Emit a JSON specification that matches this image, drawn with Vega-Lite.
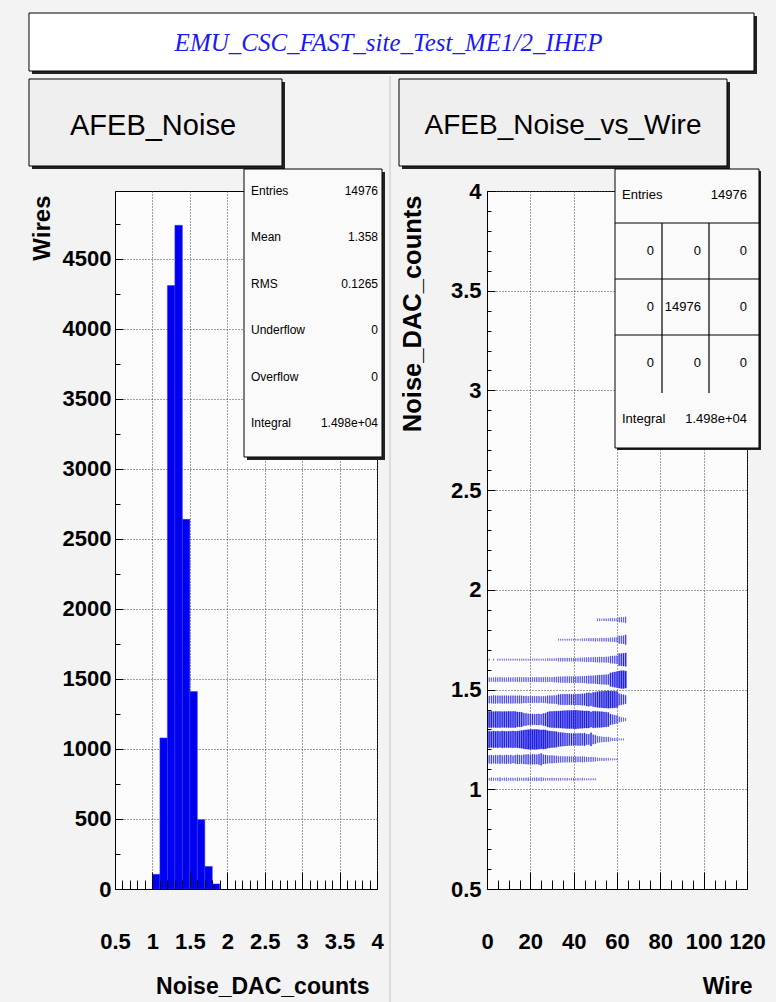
{
"$schema":"https://vega.github.io/schema/vega-lite/v6.json",
"background":"#f3f3f3",
"padding":{"left":27,"top":12,"right":16,"bottom":6},
"autosize":{"type":"pad"},
"bounds":"flush",
"spacing":110,
"config":{"view":{"fill":"#fcfcfc","stroke":"#000","strokeWidth":1},"text":{"font":"Liberation Sans","color":"#000"},"axis":{"labelFont":"Liberation Sans","titleFont":"Liberation Sans","labelColor":"#000","titleColor":"#000"}},
"datasets":{
"one":[{}],
"hist":[{"lo":1.0,"hi":1.1,"n":105},{"lo":1.1,"hi":1.2,"n":1079},{"lo":1.2,"hi":1.3,"n":4310},{"lo":1.3,"hi":1.4,"n":4740},{"lo":1.4,"hi":1.5,"n":2640},{"lo":1.5,"hi":1.6,"n":1410},{"lo":1.6,"hi":1.7,"n":495},{"lo":1.7,"hi":1.8,"n":161},{"lo":1.8,"hi":1.9,"n":36}],
"lstats":[{"k":"Entries","v":"14976"},{"k":"Mean","v":"1.358"},{"k":"RMS","v":"0.1265"},{"k":"Underflow","v":"0"},{"k":"Overflow","v":"0"},{"k":"Integral","v":"1.498e+04"}],
"rstats":[{"r":"r0","c":"L","t":"Entries"},{"r":"r0","c":"c3","t":"14976"},{"r":"r1","c":"c1","t":"0"},{"r":"r1","c":"c2","t":"0"},{"r":"r1","c":"c3","t":"0"},{"r":"r2","c":"c1","t":"0"},{"r":"r2","c":"c2","t":"14976"},{"r":"r2","c":"c3","t":"0"},{"r":"r3","c":"c1","t":"0"},{"r":"r3","c":"c2","t":"0"},{"r":"r3","c":"c3","t":"0"},{"r":"r4","c":"L","t":"Integral"},{"r":"r4","c":"c3","t":"1.498e+04"}],
"cells":[
{"w":1,"n":1.05,"c":2},{"w":1,"n":1.15,"c":22},{"w":1,"n":1.25,"c":95},{"w":1,"n":1.35,"c":90},{"w":1,"n":1.45,"c":18},{"w":1,"n":1.55,"c":6},{"w":1,"n":1.65,"c":1},
{"w":2,"n":1.05,"c":4},{"w":2,"n":1.15,"c":26},{"w":2,"n":1.25,"c":88},{"w":2,"n":1.35,"c":92},{"w":2,"n":1.45,"c":19},{"w":2,"n":1.55,"c":5},
{"w":3,"n":1.05,"c":3},{"w":3,"n":1.15,"c":20},{"w":3,"n":1.25,"c":96},{"w":3,"n":1.35,"c":86},{"w":3,"n":1.45,"c":22},{"w":3,"n":1.55,"c":6},{"w":3,"n":1.65,"c":1},
{"w":4,"n":1.05,"c":2},{"w":4,"n":1.15,"c":25},{"w":4,"n":1.25,"c":90},{"w":4,"n":1.35,"c":89},{"w":4,"n":1.45,"c":21},{"w":4,"n":1.55,"c":7},
{"w":5,"n":1.05,"c":3},{"w":5,"n":1.15,"c":23},{"w":5,"n":1.25,"c":94},{"w":5,"n":1.35,"c":87},{"w":5,"n":1.45,"c":20},{"w":5,"n":1.55,"c":6},{"w":5,"n":1.65,"c":1},
{"w":6,"n":1.05,"c":5},{"w":6,"n":1.15,"c":27},{"w":6,"n":1.25,"c":85},{"w":6,"n":1.35,"c":90},{"w":6,"n":1.45,"c":19},{"w":6,"n":1.55,"c":7},{"w":6,"n":1.65,"c":1},
{"w":7,"n":1.05,"c":2},{"w":7,"n":1.15,"c":21},{"w":7,"n":1.25,"c":98},{"w":7,"n":1.35,"c":85},{"w":7,"n":1.45,"c":21},{"w":7,"n":1.55,"c":6},{"w":7,"n":1.65,"c":1},
{"w":8,"n":1.05,"c":3},{"w":8,"n":1.15,"c":24},{"w":8,"n":1.25,"c":92},{"w":8,"n":1.35,"c":88},{"w":8,"n":1.45,"c":20},{"w":8,"n":1.55,"c":6},{"w":8,"n":1.65,"c":1},
{"w":9,"n":1.05,"c":4},{"w":9,"n":1.15,"c":28},{"w":9,"n":1.25,"c":89},{"w":9,"n":1.35,"c":86},{"w":9,"n":1.45,"c":20},{"w":9,"n":1.55,"c":6},{"w":9,"n":1.65,"c":1},
{"w":10,"n":1.05,"c":2},{"w":10,"n":1.15,"c":22},{"w":10,"n":1.25,"c":93},{"w":10,"n":1.35,"c":91},{"w":10,"n":1.45,"c":19},{"w":10,"n":1.55,"c":6},{"w":10,"n":1.65,"c":1},
{"w":11,"n":1.05,"c":3},{"w":11,"n":1.15,"c":26},{"w":11,"n":1.25,"c":90},{"w":11,"n":1.35,"c":87},{"w":11,"n":1.45,"c":21},{"w":11,"n":1.55,"c":6},{"w":11,"n":1.65,"c":1},
{"w":12,"n":1.05,"c":3},{"w":12,"n":1.15,"c":19},{"w":12,"n":1.25,"c":97},{"w":12,"n":1.35,"c":88},{"w":12,"n":1.45,"c":20},{"w":12,"n":1.55,"c":6},{"w":12,"n":1.65,"c":1},
{"w":13,"n":1.05,"c":2},{"w":13,"n":1.15,"c":25},{"w":13,"n":1.25,"c":91},{"w":13,"n":1.35,"c":89},{"w":13,"n":1.45,"c":20},{"w":13,"n":1.55,"c":6},{"w":13,"n":1.65,"c":1},
{"w":14,"n":1.05,"c":4},{"w":14,"n":1.15,"c":30},{"w":14,"n":1.25,"c":95},{"w":14,"n":1.35,"c":78},{"w":14,"n":1.45,"c":19},{"w":14,"n":1.55,"c":7},{"w":14,"n":1.65,"c":1},
{"w":15,"n":1.05,"c":3},{"w":15,"n":1.15,"c":26},{"w":15,"n":1.25,"c":102},{"w":15,"n":1.35,"c":75},{"w":15,"n":1.45,"c":20},{"w":15,"n":1.55,"c":7},{"w":15,"n":1.65,"c":1},
{"w":16,"n":1.05,"c":2},{"w":16,"n":1.15,"c":24},{"w":16,"n":1.25,"c":108},{"w":16,"n":1.35,"c":72},{"w":16,"n":1.45,"c":20},{"w":16,"n":1.55,"c":7},{"w":16,"n":1.65,"c":1},
{"w":17,"n":1.05,"c":3},{"w":17,"n":1.15,"c":30},{"w":17,"n":1.25,"c":120},{"w":17,"n":1.35,"c":56},{"w":17,"n":1.45,"c":17},{"w":17,"n":1.55,"c":7},{"w":17,"n":1.65,"c":1},
{"w":18,"n":1.05,"c":3},{"w":18,"n":1.15,"c":31},{"w":18,"n":1.25,"c":126},{"w":18,"n":1.35,"c":50},{"w":18,"n":1.45,"c":16},{"w":18,"n":1.55,"c":7},{"w":18,"n":1.65,"c":1},
{"w":19,"n":1.05,"c":4},{"w":19,"n":1.15,"c":33},{"w":19,"n":1.25,"c":132},{"w":19,"n":1.35,"c":44},{"w":19,"n":1.45,"c":14},{"w":19,"n":1.55,"c":6},{"w":19,"n":1.65,"c":1},
{"w":20,"n":1.05,"c":2},{"w":20,"n":1.15,"c":30},{"w":20,"n":1.25,"c":136},{"w":20,"n":1.35,"c":42},{"w":20,"n":1.45,"c":16},{"w":20,"n":1.55,"c":7},{"w":20,"n":1.65,"c":1},
{"w":21,"n":1.05,"c":3},{"w":21,"n":1.15,"c":34},{"w":21,"n":1.25,"c":134},{"w":21,"n":1.35,"c":40},{"w":21,"n":1.45,"c":15},{"w":21,"n":1.55,"c":7},{"w":21,"n":1.65,"c":1},
{"w":22,"n":1.05,"c":3},{"w":22,"n":1.15,"c":32},{"w":22,"n":1.25,"c":138},{"w":22,"n":1.35,"c":38},{"w":22,"n":1.45,"c":15},{"w":22,"n":1.55,"c":7},{"w":22,"n":1.65,"c":1},
{"w":23,"n":1.05,"c":4},{"w":23,"n":1.15,"c":31},{"w":23,"n":1.25,"c":135},{"w":23,"n":1.35,"c":41},{"w":23,"n":1.45,"c":15},{"w":23,"n":1.55,"c":7},{"w":23,"n":1.65,"c":1},
{"w":24,"n":1.05,"c":3},{"w":24,"n":1.15,"c":35},{"w":24,"n":1.25,"c":130},{"w":24,"n":1.35,"c":43},{"w":24,"n":1.45,"c":15},{"w":24,"n":1.55,"c":7},{"w":24,"n":1.65,"c":1},
{"w":25,"n":1.05,"c":5},{"w":25,"n":1.15,"c":48},{"w":25,"n":1.25,"c":122},{"w":25,"n":1.35,"c":38},{"w":25,"n":1.45,"c":13},{"w":25,"n":1.55,"c":7},{"w":25,"n":1.65,"c":1},
{"w":26,"n":1.05,"c":3},{"w":26,"n":1.15,"c":30},{"w":26,"n":1.25,"c":128},{"w":26,"n":1.35,"c":50},{"w":26,"n":1.45,"c":15},{"w":26,"n":1.55,"c":7},{"w":26,"n":1.65,"c":1},
{"w":27,"n":1.05,"c":2},{"w":27,"n":1.15,"c":28},{"w":27,"n":1.25,"c":124},{"w":27,"n":1.35,"c":56},{"w":27,"n":1.45,"c":16},{"w":27,"n":1.55,"c":7},{"w":27,"n":1.65,"c":1},
{"w":28,"n":1.05,"c":2},{"w":28,"n":1.15,"c":22},{"w":28,"n":1.25,"c":104},{"w":28,"n":1.35,"c":76},{"w":28,"n":1.45,"c":20},{"w":28,"n":1.55,"c":8},{"w":28,"n":1.65,"c":2},
{"w":29,"n":1.05,"c":2},{"w":29,"n":1.15,"c":20},{"w":29,"n":1.25,"c":96},{"w":29,"n":1.35,"c":86},{"w":29,"n":1.45,"c":21},{"w":29,"n":1.55,"c":7},{"w":29,"n":1.65,"c":2},
{"w":30,"n":1.05,"c":3},{"w":30,"n":1.15,"c":21},{"w":30,"n":1.25,"c":92},{"w":30,"n":1.35,"c":88},{"w":30,"n":1.45,"c":21},{"w":30,"n":1.55,"c":7},{"w":30,"n":1.65,"c":2},
{"w":31,"n":1.05,"c":2},{"w":31,"n":1.15,"c":18},{"w":31,"n":1.25,"c":88},{"w":31,"n":1.35,"c":92},{"w":31,"n":1.45,"c":23},{"w":31,"n":1.55,"c":9},{"w":31,"n":1.65,"c":2},
{"w":32,"n":1.05,"c":2},{"w":32,"n":1.15,"c":17},{"w":32,"n":1.25,"c":84},{"w":32,"n":1.35,"c":95},{"w":32,"n":1.45,"c":24},{"w":32,"n":1.55,"c":10},{"w":32,"n":1.65,"c":2},
{"w":33,"n":1.05,"c":2},{"w":33,"n":1.15,"c":14},{"w":33,"n":1.25,"c":70},{"w":33,"n":1.35,"c":98},{"w":33,"n":1.45,"c":34},{"w":33,"n":1.55,"c":11},{"w":33,"n":1.65,"c":4},{"w":33,"n":1.75,"c":1},
{"w":34,"n":1.05,"c":2},{"w":34,"n":1.15,"c":13},{"w":34,"n":1.25,"c":66},{"w":34,"n":1.35,"c":100},{"w":34,"n":1.45,"c":36},{"w":34,"n":1.55,"c":12},{"w":34,"n":1.65,"c":4},{"w":34,"n":1.75,"c":1},
{"w":35,"n":1.05,"c":1},{"w":35,"n":1.15,"c":12},{"w":35,"n":1.25,"c":62},{"w":35,"n":1.35,"c":104},{"w":35,"n":1.45,"c":38},{"w":35,"n":1.55,"c":12},{"w":35,"n":1.65,"c":4},{"w":35,"n":1.75,"c":1},
{"w":36,"n":1.05,"c":2},{"w":36,"n":1.15,"c":12},{"w":36,"n":1.25,"c":58},{"w":36,"n":1.35,"c":106},{"w":36,"n":1.45,"c":38},{"w":36,"n":1.55,"c":13},{"w":36,"n":1.65,"c":4},{"w":36,"n":1.75,"c":1},
{"w":37,"n":1.05,"c":2},{"w":37,"n":1.15,"c":11},{"w":37,"n":1.25,"c":54},{"w":37,"n":1.35,"c":110},{"w":37,"n":1.45,"c":39},{"w":37,"n":1.55,"c":13},{"w":37,"n":1.65,"c":4},{"w":37,"n":1.75,"c":1},
{"w":38,"n":1.05,"c":1},{"w":38,"n":1.15,"c":12},{"w":38,"n":1.25,"c":52},{"w":38,"n":1.35,"c":112},{"w":38,"n":1.45,"c":39},{"w":38,"n":1.55,"c":13},{"w":38,"n":1.65,"c":4},{"w":38,"n":1.75,"c":1},
{"w":39,"n":1.05,"c":2},{"w":39,"n":1.15,"c":11},{"w":39,"n":1.25,"c":50},{"w":39,"n":1.35,"c":114},{"w":39,"n":1.45,"c":39},{"w":39,"n":1.55,"c":13},{"w":39,"n":1.65,"c":4},{"w":39,"n":1.75,"c":1},
{"w":40,"n":1.05,"c":2},{"w":40,"n":1.15,"c":10},{"w":40,"n":1.25,"c":50},{"w":40,"n":1.35,"c":115},{"w":40,"n":1.45,"c":39},{"w":40,"n":1.55,"c":13},{"w":40,"n":1.65,"c":4},{"w":40,"n":1.75,"c":1},
{"w":41,"n":1.05,"c":1},{"w":41,"n":1.15,"c":11},{"w":41,"n":1.25,"c":48},{"w":41,"n":1.35,"c":116},{"w":41,"n":1.45,"c":40},{"w":41,"n":1.55,"c":13},{"w":41,"n":1.65,"c":4},{"w":41,"n":1.75,"c":1},
{"w":42,"n":1.05,"c":2},{"w":42,"n":1.15,"c":10},{"w":42,"n":1.25,"c":50},{"w":42,"n":1.35,"c":112},{"w":42,"n":1.45,"c":41},{"w":42,"n":1.55,"c":14},{"w":42,"n":1.65,"c":4},{"w":42,"n":1.75,"c":1},
{"w":43,"n":1.05,"c":1},{"w":43,"n":1.15,"c":10},{"w":43,"n":1.25,"c":52},{"w":43,"n":1.35,"c":108},{"w":43,"n":1.45,"c":43},{"w":43,"n":1.55,"c":14},{"w":43,"n":1.65,"c":5},{"w":43,"n":1.75,"c":1},
{"w":44,"n":1.05,"c":2},{"w":44,"n":1.15,"c":11},{"w":44,"n":1.25,"c":48},{"w":44,"n":1.35,"c":106},{"w":44,"n":1.45,"c":45},{"w":44,"n":1.55,"c":15},{"w":44,"n":1.65,"c":5},{"w":44,"n":1.75,"c":2},
{"w":45,"n":1.05,"c":1},{"w":45,"n":1.15,"c":10},{"w":45,"n":1.25,"c":55},{"w":45,"n":1.35,"c":100},{"w":45,"n":1.45,"c":45},{"w":45,"n":1.55,"c":15},{"w":45,"n":1.65,"c":6},{"w":45,"n":1.75,"c":2},
{"w":46,"n":1.05,"c":1},{"w":46,"n":1.15,"c":8},{"w":46,"n":1.25,"c":40},{"w":46,"n":1.35,"c":100},{"w":46,"n":1.45,"c":58},{"w":46,"n":1.55,"c":18},{"w":46,"n":1.65,"c":7},{"w":46,"n":1.75,"c":2},
{"w":47,"n":1.05,"c":1},{"w":47,"n":1.15,"c":7},{"w":47,"n":1.25,"c":36},{"w":47,"n":1.35,"c":98},{"w":47,"n":1.45,"c":62},{"w":47,"n":1.55,"c":20},{"w":47,"n":1.65,"c":7},{"w":47,"n":1.75,"c":3},
{"w":48,"n":1.05,"c":1},{"w":48,"n":1.15,"c":8},{"w":48,"n":1.25,"c":60},{"w":48,"n":1.35,"c":80},{"w":48,"n":1.45,"c":55},{"w":48,"n":1.55,"c":20},{"w":48,"n":1.65,"c":7},{"w":48,"n":1.75,"c":3},
{"w":49,"n":1.05,"c":1},{"w":49,"n":1.15,"c":7},{"w":49,"n":1.25,"c":30},{"w":49,"n":1.35,"c":96},{"w":49,"n":1.45,"c":68},{"w":49,"n":1.55,"c":21},{"w":49,"n":1.65,"c":8},{"w":49,"n":1.75,"c":3},
{"w":50,"n":1.05,"c":1},{"w":50,"n":1.15,"c":6},{"w":50,"n":1.25,"c":25},{"w":50,"n":1.35,"c":92},{"w":50,"n":1.45,"c":75},{"w":50,"n":1.55,"c":22},{"w":50,"n":1.65,"c":9},{"w":50,"n":1.75,"c":4},
{"w":51,"n":1.15,"c":4},{"w":51,"n":1.25,"c":14},{"w":51,"n":1.35,"c":90},{"w":51,"n":1.45,"c":85},{"w":51,"n":1.55,"c":27},{"w":51,"n":1.65,"c":9},{"w":51,"n":1.75,"c":3},{"w":51,"n":1.85,"c":2},
{"w":52,"n":1.15,"c":3},{"w":52,"n":1.25,"c":12},{"w":52,"n":1.35,"c":86},{"w":52,"n":1.45,"c":90},{"w":52,"n":1.55,"c":28},{"w":52,"n":1.65,"c":10},{"w":52,"n":1.75,"c":3},{"w":52,"n":1.85,"c":2},
{"w":53,"n":1.15,"c":3},{"w":53,"n":1.25,"c":10},{"w":53,"n":1.35,"c":82},{"w":53,"n":1.45,"c":94},{"w":53,"n":1.55,"c":30},{"w":53,"n":1.65,"c":10},{"w":53,"n":1.75,"c":4},{"w":53,"n":1.85,"c":1},
{"w":54,"n":1.15,"c":3},{"w":54,"n":1.25,"c":9},{"w":54,"n":1.35,"c":78},{"w":54,"n":1.45,"c":97},{"w":54,"n":1.55,"c":31},{"w":54,"n":1.65,"c":10},{"w":54,"n":1.75,"c":4},{"w":54,"n":1.85,"c":2},
{"w":55,"n":1.15,"c":2},{"w":55,"n":1.25,"c":8},{"w":55,"n":1.35,"c":74},{"w":55,"n":1.45,"c":100},{"w":55,"n":1.55,"c":33},{"w":55,"n":1.65,"c":11},{"w":55,"n":1.75,"c":4},{"w":55,"n":1.85,"c":2},
{"w":56,"n":1.15,"c":2},{"w":56,"n":1.25,"c":8},{"w":56,"n":1.35,"c":68},{"w":56,"n":1.45,"c":104},{"w":56,"n":1.55,"c":35},{"w":56,"n":1.65,"c":11},{"w":56,"n":1.75,"c":4},{"w":56,"n":1.85,"c":2},
{"w":57,"n":1.15,"c":1},{"w":57,"n":1.25,"c":4},{"w":57,"n":1.35,"c":40},{"w":57,"n":1.45,"c":100},{"w":57,"n":1.55,"c":62},{"w":57,"n":1.65,"c":18},{"w":57,"n":1.75,"c":6},{"w":57,"n":1.85,"c":3},
{"w":58,"n":1.15,"c":1},{"w":58,"n":1.25,"c":3},{"w":58,"n":1.35,"c":32},{"w":58,"n":1.45,"c":98},{"w":58,"n":1.55,"c":72},{"w":58,"n":1.65,"c":19},{"w":58,"n":1.75,"c":6},{"w":58,"n":1.85,"c":3},
{"w":59,"n":1.15,"c":1},{"w":59,"n":1.25,"c":3},{"w":59,"n":1.35,"c":26},{"w":59,"n":1.45,"c":94},{"w":59,"n":1.55,"c":80},{"w":59,"n":1.65,"c":20},{"w":59,"n":1.75,"c":7},{"w":59,"n":1.85,"c":3},
{"w":60,"n":1.15,"c":1},{"w":60,"n":1.25,"c":2},{"w":60,"n":1.35,"c":22},{"w":60,"n":1.45,"c":88},{"w":60,"n":1.55,"c":88},{"w":60,"n":1.65,"c":22},{"w":60,"n":1.75,"c":8},{"w":60,"n":1.85,"c":3},
{"w":61,"n":1.25,"c":1},{"w":61,"n":1.35,"c":10},{"w":61,"n":1.45,"c":45},{"w":61,"n":1.55,"c":100},{"w":61,"n":1.65,"c":50},{"w":61,"n":1.75,"c":20},{"w":61,"n":1.85,"c":8},
{"w":62,"n":1.25,"c":1},{"w":62,"n":1.35,"c":7},{"w":62,"n":1.45,"c":38},{"w":62,"n":1.55,"c":108},{"w":62,"n":1.65,"c":52},{"w":62,"n":1.75,"c":20},{"w":62,"n":1.85,"c":8},
{"w":63,"n":1.25,"c":1},{"w":63,"n":1.35,"c":5},{"w":63,"n":1.45,"c":32},{"w":63,"n":1.55,"c":110},{"w":63,"n":1.65,"c":56},{"w":63,"n":1.75,"c":22},{"w":63,"n":1.85,"c":8},
{"w":64,"n":1.35,"c":3},{"w":64,"n":1.45,"c":25},{"w":64,"n":1.55,"c":100},{"w":64,"n":1.65,"c":62},{"w":64,"n":1.75,"c":32},{"w":64,"n":1.85,"c":12}
]},
"hconcat":[
{
"width":262,"height":698,
"resolve":{"scale":{"y":"independent"},"axis":{"x":"independent","y":"independent"}},
"layer":[
{
"resolve":{"axis":{"x":"independent","y":"independent"}},
"layer":[
{"data":{"name":"one"},
 "mark":{"type":"rule","color":"#c4c4c4","strokeWidth":1},
 "encoding":{
  "x":{"datum":4.1737,"scale":{"domain":[0.5,4],"nice":false,"zero":false},"axis":null},
  "y":{"datum":5806.3,"scale":{"domain":[0,4985],"nice":false,"zero":false},"axis":null},
  "y2":{"datum":-814.2}
 }},
{"data":{"name":"hist"},
 "mark":{"type":"rect","color":"#0000f0","stroke":"#3434ff","strokeWidth":0.5},
 "encoding":{
  "x":{"field":"lo","type":"quantitative","scale":{"domain":[0.5,4],"nice":false,"zero":false},
       "axis":{"orient":"bottom","values":[0.5,1,1.5,2,2.5,3,3.5,4],"format":"~g","labelFontSize":22,"labelFontWeight":"bold","labelPadding":52,"labelBaseline":"middle","labelOverlap":false,"labelFlush":false,"ticks":false,"tickSize":0,"domain":false,"grid":true,"gridColor":"#444","gridDash":[1,2],"gridWidth":1,"title":"Noise_DAC_counts","titleFontSize":23,"titleFontWeight":"bold","titleX":254,"titleY":97,"titleAlign":"right","titleBaseline":"middle","titleAngle":0}},
  "x2":{"field":"hi"},
  "y":{"field":"n","type":"quantitative","scale":{"domain":[0,4985],"nice":false,"zero":false},
       "axis":{"orient":"left","values":[0,500,1000,1500,2000,2500,3000,3500,4000,4500],"format":"d","labelFontSize":22,"labelFontWeight":"bold","labelPadding":4,"labelOverlap":false,"ticks":false,"tickSize":0,"domain":false,"grid":true,"gridColor":"#444","gridDash":[1,2],"gridWidth":1,"title":"Wires","titleFontSize":24,"titleFontWeight":"bold","titleAngle":270,"titleX":-73,"titleY":4,"titleAlign":"right","titleBaseline":"middle"}},
  "y2":{"datum":0}
 }},
{"data":{"name":"one"},
 "mark":{"type":"rect","color":"#222"},
 "encoding":{
  "x":{"datum":-0.6088,"scale":{"domain":[0.5,4],"nice":false,"zero":false},"axis":{"orient":"bottom","values":[0.6,0.7,0.8,0.9,1.1,1.2,1.3,1.4,1.6,1.7,1.8,1.9,2.1,2.2,2.3,2.4,2.6,2.7,2.8,2.9,3.1,3.2,3.3,3.4,3.6,3.7,3.8,3.9],"labels":false,"grid":false,"domain":false,"ticks":true,"tickSize":-9,"tickColor":"#000","tickWidth":1,"title":null,"zindex":1}},
  "x2":{"datum":2.7710},
  "y":{"datum":5763.4,"scale":{"domain":[0,4985],"nice":false,"zero":false},"axis":{"orient":"left","values":[250,750,1250,1750,2250,2750,3250,3750,4250,4750],"labels":false,"grid":false,"domain":false,"ticks":true,"tickSize":-5,"tickColor":"#000","tickWidth":1,"title":null,"zindex":1}},
  "y2":{"datum":5142.1}
 }},
{"data":{"name":"one"},
 "mark":{"type":"rect","fill":"#efefef","stroke":"#000","strokeWidth":1},
 "encoding":{
  "x":{"datum":-0.6489,"scale":{"domain":[0.5,4],"nice":false,"zero":false},"axis":{"orient":"bottom","values":[0.5,1,1.5,2,2.5,3,3.5,4],"labels":false,"grid":false,"domain":true,"domainColor":"#000","domainWidth":1,"ticks":true,"tickSize":-17,"tickColor":"#000","tickWidth":1,"title":null,"zindex":1}},
  "x2":{"datum":2.7309},
  "y":{"datum":5784.9,"scale":{"domain":[0,4985],"nice":false,"zero":false},"axis":{"orient":"left","values":[0,500,1000,1500,2000,2500,3000,3500,4000,4500],"labels":false,"grid":false,"domain":true,"domainColor":"#000","domainWidth":1,"ticks":true,"tickSize":-8,"tickColor":"#000","tickWidth":1,"title":null,"zindex":1}},
  "y2":{"datum":5163.5}
 }},
{"data":{"name":"one"},
 "mark":{"type":"text","fontSize":29,"align":"center","baseline":"middle","color":"#000"},
 "encoding":{
  "x":{"datum":1.0076,"scale":{"domain":[0.5,4],"nice":false,"zero":false},"axis":null},
  "y":{"datum":5449.2,"scale":{"domain":[0,4985],"nice":false,"zero":false},"axis":null},
  "text":{"value":"AFEB_Noise"}
 }},
{"data":{"name":"one"},
 "mark":{"type":"rect","color":"#222"},
 "encoding":{
  "x":{"datum":-0.6088,"scale":{"domain":[0.5,4],"nice":false,"zero":false},"axis":null},
  "x2":{"datum":9.0764},
  "y":{"datum":6234.8,"scale":{"domain":[0,4985],"nice":false,"zero":false},"axis":null},
  "y2":{"datum":5820.6}
 }},
{"data":{"name":"one"},
 "mark":{"type":"rect","fill":"#ffffff","stroke":"#000","strokeWidth":1},
 "encoding":{
  "x":{"datum":-0.6489,"scale":{"domain":[0.5,4],"nice":false,"zero":false},"axis":null},
  "x2":{"datum":9.0363},
  "y":{"datum":6256.2,"scale":{"domain":[0,4985],"nice":false,"zero":false},"axis":null},
  "y2":{"datum":5842.0}
 }},
{"data":{"name":"one"},
 "mark":{"type":"text","font":"Liberation Serif","fontStyle":"italic","fontSize":25,"align":"center","baseline":"middle","color":"#1a1aef"},
 "encoding":{
  "x":{"datum":4.1537,"scale":{"domain":[0.5,4],"nice":false,"zero":false},"axis":null},
  "y":{"datum":6041.96,"scale":{"domain":[0,4985],"nice":false,"zero":false},"axis":null},
  "text":{"value":"EMU_CSC_FAST_site_Test_ME1/2_IHEP"}
 }},
{"data":{"name":"one"},
 "mark":{"type":"rect","color":"#222"},
 "encoding":{
  "x":{"datum":2.2634,"scale":{"domain":[0.5,4],"nice":false,"zero":false},"axis":null},
  "x2":{"datum":4.1069},
  "y":{"datum":5120.7,"scale":{"domain":[0,4985],"nice":false,"zero":false},"axis":null},
  "y2":{"datum":3063.8}
 }},
{"data":{"name":"one"},
 "mark":{"type":"rect","fill":"#fafafa","stroke":"#000","strokeWidth":1},
 "encoding":{
  "x":{"datum":2.2233,"scale":{"domain":[0.5,4],"nice":false,"zero":false},"axis":null},
  "x2":{"datum":4.0668},
  "y":{"datum":5142.1,"scale":{"domain":[0,4985],"nice":false,"zero":false},"axis":null},
  "y2":{"datum":3085.3}
 }}
]
},
{
"data":{"name":"lstats"},
"layer":[
{"mark":{"type":"text","align":"left","baseline":"middle","fontSize":12},
 "encoding":{
  "x":{"datum":2.3168,"scale":{"domain":[0.5,4],"nice":false,"zero":false},"axis":null},
  "y":{"field":"k","type":"nominal","sort":null,"scale":{"type":"point","domain":["Entries","Mean","RMS","Underflow","Overflow","Integral"],"range":[0,232],"padding":0},"axis":null},
  "text":{"field":"k"}
 }},
{"mark":{"type":"text","align":"right","baseline":"middle","fontSize":12},
 "encoding":{
  "x":{"datum":4.0134,"scale":{"domain":[0.5,4],"nice":false,"zero":false},"axis":null},
  "y":{"field":"k","type":"nominal","sort":null,"scale":{"type":"point","domain":["Entries","Mean","RMS","Underflow","Overflow","Integral"],"range":[0,232],"padding":0},"axis":null},
  "text":{"field":"v"}
 }}
]
}
]
},
{
"width":260,"height":698,
"resolve":{"scale":{"y":"independent"},"axis":{"x":"independent","y":"independent"}},
"layer":[
{
"resolve":{"axis":{"x":"independent","y":"independent"}},
"layer":[
{"data":{"name":"cells"},
 "mark":{"type":"point","shape":"M-0.085,-1L0.085,-1L0.085,1L-0.085,1Z","filled":true,"color":"#1e1ee4","opacity":1,"stroke":"#3030e8","strokeWidth":0.4},
 "encoding":{
  "x":{"field":"w","type":"quantitative","scale":{"domain":[0,120],"nice":false,"zero":false},
       "axis":{"orient":"bottom","values":[0,20,40,60,80,100,120],"labelFontSize":22,"labelFontWeight":"bold","labelPadding":52,"labelBaseline":"middle","labelOverlap":false,"labelFlush":false,"ticks":false,"tickSize":0,"domain":false,"grid":true,"gridColor":"#444","gridDash":[1,2],"gridWidth":1,"title":"Wire","titleFontSize":23,"titleFontWeight":"bold","titleX":265,"titleY":97,"titleAlign":"right","titleBaseline":"middle","titleAngle":0}},
  "y":{"field":"n","type":"quantitative","scale":{"domain":[0.5,4],"nice":false,"zero":false},
       "axis":{"orient":"left","values":[0.5,1,1.5,2,2.5,3,3.5,4],"format":"~g","labelFontSize":22,"labelFontWeight":"bold","labelPadding":6,"labelOverlap":false,"ticks":false,"tickSize":0,"domain":false,"grid":true,"gridColor":"#444","gridDash":[1,2],"gridWidth":1,"title":"Noise_DAC_counts","titleFontSize":25.5,"titleFontWeight":"bold","titleAngle":270,"titleX":-75,"titleY":4,"titleAlign":"right","titleBaseline":"middle"}},
  "size":{"field":"c","type":"quantitative","scale":{"domain":[0,138],"range":[0,398]},"legend":null}
 }},
{"data":{"name":"one"},
 "mark":{"type":"rect","color":"#222"},
 "encoding":{
  "x":{"datum":-39.231,"scale":{"domain":[0,120],"nice":false,"zero":false},"axis":{"orient":"bottom","values":[5,10,15,25,30,35,45,50,55,65,70,75,85,90,95,105,110,115],"labels":false,"grid":false,"domain":false,"ticks":true,"tickSize":-9,"tickColor":"#000","tickWidth":1,"title":null,"zindex":1}},
  "x2":{"datum":112.154},
  "y":{"datum":4.5466,"scale":{"domain":[0.5,4],"nice":false,"zero":false},"axis":{"orient":"left","values":[0.6,0.7,0.8,0.9,1.1,1.2,1.3,1.4,1.6,1.7,1.8,1.9,2.1,2.2,2.3,2.4,2.6,2.7,2.8,2.9,3.1,3.2,3.3,3.4,3.6,3.7,3.8,3.9],"labels":false,"grid":false,"domain":false,"ticks":true,"tickSize":-4,"tickColor":"#000","tickWidth":1,"title":null,"zindex":1}},
  "y2":{"datum":4.1103}
 }},
{"data":{"name":"one"},
 "mark":{"type":"rect","fill":"#efefef","stroke":"#000","strokeWidth":1},
 "encoding":{
  "x":{"datum":-40.615,"scale":{"domain":[0,120],"nice":false,"zero":false},"axis":{"orient":"bottom","values":[0,20,40,60,80,100,120],"labels":false,"grid":false,"domain":true,"domainColor":"#000","domainWidth":1,"ticks":true,"tickSize":-17,"tickColor":"#000","tickWidth":1,"title":null,"zindex":1}},
  "x2":{"datum":110.769},
  "y":{"datum":4.5616,"scale":{"domain":[0.5,4],"nice":false,"zero":false},"axis":{"orient":"left","values":[0.5,1,1.5,2,2.5,3,3.5,4],"labels":false,"grid":false,"domain":true,"domainColor":"#000","domainWidth":1,"ticks":true,"tickSize":-8,"tickColor":"#000","tickWidth":1,"title":null,"zindex":1}},
  "y2":{"datum":4.1254}
 }},
{"data":{"name":"one"},
 "mark":{"type":"text","fontSize":28,"align":"center","baseline":"middle","color":"#000"},
 "encoding":{
  "x":{"datum":35.077,"scale":{"domain":[0,120],"nice":false,"zero":false},"axis":null},
  "y":{"datum":4.3259,"scale":{"domain":[0.5,4],"nice":false,"zero":false},"axis":null},
  "text":{"value":"AFEB_Noise_vs_Wire"}
 }},
{"data":{"name":"one"},
 "mark":{"type":"rect","color":"#222"},
 "encoding":{
  "x":{"datum":60.0,"scale":{"domain":[0,120],"nice":false,"zero":false},"axis":null},
  "x2":{"datum":126.462},
  "y":{"datum":4.1003,"scale":{"domain":[0.5,4],"nice":false,"zero":false},"axis":null},
  "y2":{"datum":2.7013}
 }},
{"data":{"name":"one"},
 "mark":{"type":"rect","fill":"#fafafa","stroke":"#000","strokeWidth":1},
 "encoding":{
  "x":{"datum":59.077,"scale":{"domain":[0,120],"nice":false,"zero":false},"axis":null},
  "x2":{"datum":125.538},
  "y":{"datum":4.1103,"scale":{"domain":[0.5,4],"nice":false,"zero":false},"axis":null},
  "y2":{"datum":2.7113}
 }},
{"data":{"name":"one"},
 "mark":{"type":"rule","color":"#000","strokeWidth":1.2},
 "encoding":{
  "x":{"datum":59.077,"scale":{"domain":[0,120],"nice":false,"zero":false},"axis":null},
  "x2":{"datum":125.538},
  "y":{"datum":3.8395,"scale":{"domain":[0.5,4],"nice":false,"zero":false},"axis":null}
 }},
{"data":{"name":"one"},
 "mark":{"type":"rule","color":"#000","strokeWidth":1.2},
 "encoding":{
  "x":{"datum":59.077,"scale":{"domain":[0,120],"nice":false,"zero":false},"axis":null},
  "x2":{"datum":125.538},
  "y":{"datum":3.5587,"scale":{"domain":[0.5,4],"nice":false,"zero":false},"axis":null}
 }},
{"data":{"name":"one"},
 "mark":{"type":"rule","color":"#000","strokeWidth":1.2},
 "encoding":{
  "x":{"datum":59.077,"scale":{"domain":[0,120],"nice":false,"zero":false},"axis":null},
  "x2":{"datum":125.538},
  "y":{"datum":3.2779,"scale":{"domain":[0.5,4],"nice":false,"zero":false},"axis":null}
 }},
{"data":{"name":"one"},
 "mark":{"type":"rule","color":"#000","strokeWidth":1.2},
 "encoding":{
  "x":{"datum":80.769,"scale":{"domain":[0,120],"nice":false,"zero":false},"axis":null},
  "y":{"datum":3.8395,"scale":{"domain":[0.5,4],"nice":false,"zero":false},"axis":null},
  "y2":{"datum":2.9871}
 }},
{"data":{"name":"one"},
 "mark":{"type":"rule","color":"#000","strokeWidth":1.2},
 "encoding":{
  "x":{"datum":102.462,"scale":{"domain":[0,120],"nice":false,"zero":false},"axis":null},
  "y":{"datum":3.8395,"scale":{"domain":[0.5,4],"nice":false,"zero":false},"axis":null},
  "y2":{"datum":2.9871}
 }}
]
},
{
"data":{"name":"rstats"},
"layer":[
{"transform":[{"filter":{"field":"c","equal":"L"}}],
 "mark":{"type":"text","align":"left","baseline":"middle","fontSize":13},
 "encoding":{
  "x":{"datum":62.308,"scale":{"domain":[0,120],"nice":false,"zero":false},"axis":null},
  "y":{"field":"r","type":"nominal","sort":null,"scale":{"type":"point","domain":["r0","r1","r2","r3","r4"],"range":[4,228],"padding":0},"axis":null},
  "text":{"field":"t"}
 }},
{"transform":[{"filter":{"field":"c","equal":"c1"}}],
 "mark":{"type":"text","align":"right","baseline":"middle","fontSize":13},
 "encoding":{
  "x":{"datum":77.077,"scale":{"domain":[0,120],"nice":false,"zero":false},"axis":null},
  "y":{"field":"r","type":"nominal","sort":null,"scale":{"type":"point","domain":["r0","r1","r2","r3","r4"],"range":[4,228],"padding":0},"axis":null},
  "text":{"field":"t"}
 }},
{"transform":[{"filter":{"field":"c","equal":"c2"}}],
 "mark":{"type":"text","align":"right","baseline":"middle","fontSize":13},
 "encoding":{
  "x":{"datum":98.769,"scale":{"domain":[0,120],"nice":false,"zero":false},"axis":null},
  "y":{"field":"r","type":"nominal","sort":null,"scale":{"type":"point","domain":["r0","r1","r2","r3","r4"],"range":[4,228],"padding":0},"axis":null},
  "text":{"field":"t"}
 }},
{"transform":[{"filter":{"field":"c","equal":"c3"}}],
 "mark":{"type":"text","align":"right","baseline":"middle","fontSize":13},
 "encoding":{
  "x":{"datum":120.0,"scale":{"domain":[0,120],"nice":false,"zero":false},"axis":null},
  "y":{"field":"r","type":"nominal","sort":null,"scale":{"type":"point","domain":["r0","r1","r2","r3","r4"],"range":[4,228],"padding":0},"axis":null},
  "text":{"field":"t"}
 }}
]
}
]
}
]
}
